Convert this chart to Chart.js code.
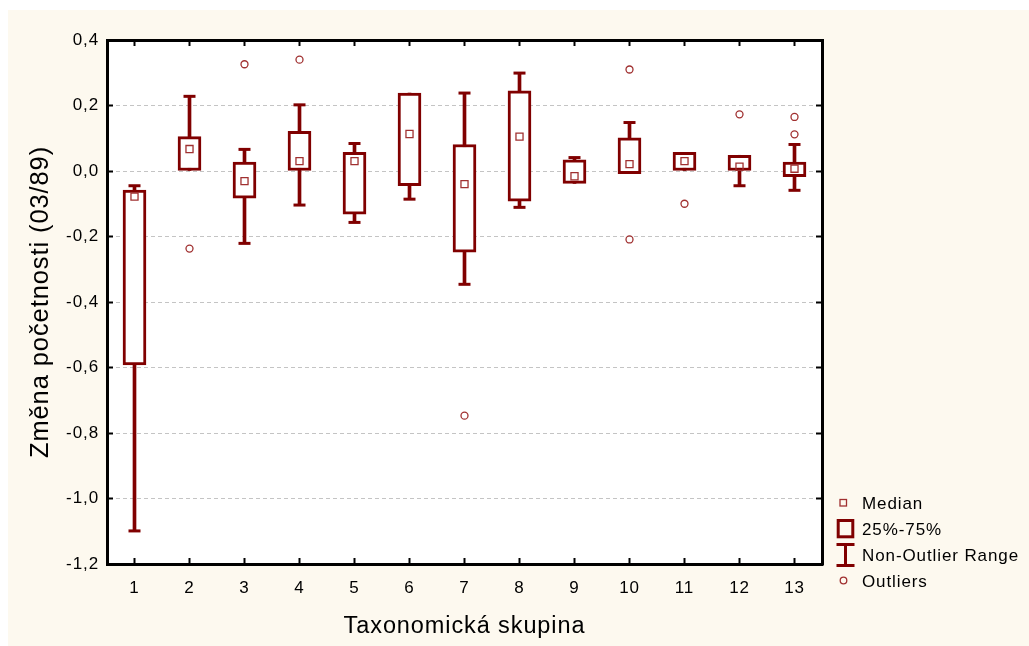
<!DOCTYPE html>
<html><head><meta charset="utf-8">
<script src="https://cdn.jsdelivr.net/npm/chart.js@4/dist/chart.umd.min.js"></script>
<style>html,body{margin:0;padding:0;background:#fff;}canvas{display:block;}</style>
</head><body>
<canvas id="c" width="1029" height="646"></canvas>
<script>
// ---- data ----
const categories = ['1','2','3','4','5','6','7','8','9','10','11','12','13'];
const whiskerLow  = [-1.099, 0.000, -0.221, -0.104, -0.157, -0.086, -0.346, -0.111, -0.038, -0.008, 0.000, -0.045, -0.059];
const q1          = [-0.592, 0.000, -0.083,  0.000, -0.132, -0.045, -0.248, -0.092, -0.038, -0.008, 0.000,  0.000, -0.017];
const median      = [-0.078, 0.067, -0.031,  0.030,  0.030,  0.113, -0.040,  0.105, -0.016,  0.021, 0.030,  0.013,  0.007];
const q3          = [-0.058, 0.105,  0.027,  0.121,  0.057,  0.238,  0.081,  0.245,  0.034,  0.101, 0.057,  0.048,  0.027];
const whiskerHigh = [-0.045, 0.228,  0.066,  0.202,  0.084,  0.238,  0.238,  0.299,  0.041,  0.148, 0.057,  0.048,  0.081];
const outlierGroup = ['2','3','4','7','10','10','11','12','13','13'];
const outlierValue = [-0.237, 0.326, 0.340, -0.747, 0.310, -0.209, -0.100, 0.173, 0.165, 0.112];
const yTickLabels = ['-1,2','-1,0','-0,8','-0,6','-0,4','-0,2','0,0','0,2','0,4'];
const legendLabels = ['Median','25%-75%','Non-Outlier Range','Outliers'];
const xTitle = 'Taxonomická skupina';
const yTitle = 'Změna početnosti (03/89)';

const DARK = '#800000';
const LIGHT = '#a03030';
const FONT = "'Liberation Sans', Arial, sans-serif";
const SPACING = '0.9px';

Chart.defaults.font.family = FONT;
Chart.defaults.color = '#000';

const pagePlugin = {
  id: 'page',
  beforeUpdate(chart) { chart.ctx.letterSpacing = SPACING; },
  beforeDraw(chart) {
    const {ctx, chartArea: a} = chart;
    ctx.save();
    ctx.fillStyle = '#ffffff';
    ctx.fillRect(0, 0, chart.width, chart.height);
    ctx.fillStyle = '#fdf9ef';
    ctx.fillRect(8, 10, chart.width - 8, chart.height - 10);
    ctx.fillStyle = '#ffffff';
    ctx.fillRect(a.left, a.top, a.right - a.left, a.bottom - a.top);
    ctx.restore();
    ctx.letterSpacing = SPACING;
  },
  afterDraw(chart) {
    const ctx = chart.ctx;
    ctx.save();
    // Median icon
    ctx.strokeStyle = LIGHT; ctx.lineWidth = 1.3;
    ctx.strokeRect(840, 499.5, 6.5, 6.5);
    // box icon
    ctx.strokeStyle = DARK; ctx.lineWidth = 3;
    ctx.strokeRect(838.2, 520.5, 14.6, 16.3);
    // whisker icon
    ctx.beginPath();
    ctx.moveTo(845.5, 544.5); ctx.lineTo(845.5, 565.5);
    ctx.moveTo(836.5, 544.5); ctx.lineTo(854.5, 544.5);
    ctx.moveTo(836.5, 565.5); ctx.lineTo(854.5, 565.5);
    ctx.stroke();
    // outlier icon
    ctx.strokeStyle = LIGHT; ctx.lineWidth = 1.3;
    ctx.beginPath(); ctx.arc(843.5, 580.5, 3.3, 0, Math.PI * 2); ctx.stroke();
    // texts
    ctx.fillStyle = '#000';
    ctx.font = "17px " + FONT;
    ctx.textBaseline = 'middle';
    ctx.textAlign = 'left';
    ctx.letterSpacing = SPACING;
    const ys = [504, 530, 556, 582];
    legendLabels.forEach((t, i) => ctx.fillText(t, 862, ys[i]));
    ctx.restore();
  }
};

const tickStyle = {tickLength: -6, tickColor: '#000', tickWidth: 2, tickBorderDash: []};

new Chart(document.getElementById('c'), {
  type: 'bar',
  data: {
    labels: categories,
    datasets: [
      {
        label: 'whisker', type: 'bar', order: 5,
        data: categories.map((c, i) => [whiskerLow[i], whiskerHigh[i]]),
        backgroundColor: DARK, borderWidth: 0, barThickness: 3, grouped: false
      },
      {
        label: 'box', type: 'bar', order: 4,
        data: categories.map((c, i) => [q1[i], q3[i]]),
        backgroundColor: '#ffffff', borderColor: DARK, borderWidth: 3,
        borderSkipped: false, barThickness: 23, grouped: false
      },
      {
        label: 'capHigh', type: 'line', order: 3, showLine: false,
        data: whiskerHigh.map((v, i) => v > q3[i] ? v : null),
        pointStyle: 'line', pointRadius: 6, pointBorderWidth: 3,
        pointBorderColor: DARK, borderColor: DARK
      },
      {
        label: 'capLow', type: 'line', order: 3, showLine: false,
        data: whiskerLow.map((v, i) => v < q1[i] ? v : null),
        pointStyle: 'line', pointRadius: 6, pointBorderWidth: 3,
        pointBorderColor: DARK, borderColor: DARK
      },
      {
        label: 'median', type: 'line', order: 2, showLine: false,
        data: median,
        pointStyle: 'rect', pointRadius: 5, pointBorderWidth: 1.3,
        pointBorderColor: LIGHT, pointBackgroundColor: 'rgba(0,0,0,0)'
      },
      {
        label: 'outliers', type: 'line', order: 1, showLine: false,
        data: outlierGroup.map((g, i) => ({x: g, y: outlierValue[i]})),
        pointStyle: 'circle', pointRadius: 3.5, pointBorderWidth: 1.3,
        pointBorderColor: LIGHT, pointBackgroundColor: 'rgba(0,0,0,0)'
      }
    ]
  },
  options: {
    responsive: false,
    animation: false,
    devicePixelRatio: 1,
    events: [],
    layout: {padding: {left: 22, top: 40, right: 207, bottom: 1}},
    plugins: {legend: {display: false}, tooltip: {enabled: false}},
    scales: {
      x: {
        type: 'category', position: 'bottom', offset: true,
        grid: Object.assign({display: true, drawOnChartArea: false, drawTicks: true, offset: false}, tickStyle),
        border: {display: true, color: '#000', width: 3, z: 1},
        ticks: {font: {size: 17}, color: '#000', padding: 20, maxRotation: 0, autoSkip: false},
        title: {display: true, text: xTitle, font: {size: 23.5}, color: '#000', padding: {top: 4, bottom: 4}},
        afterFit: s => { s.height = 81; }
      },
      xTop: {
        type: 'category', position: 'top', offset: true, min: 0, max: 12,
        grid: Object.assign({display: true, drawOnChartArea: false, drawTicks: true, offset: false}, tickStyle),
        border: {display: true, color: '#000', width: 3, z: 1},
        ticks: {display: false},
        afterFit: s => { s.height = 0; }
      },
      y: {
        type: 'linear', position: 'left', min: -1.2, max: 0.4,
        grid: Object.assign({display: true, drawOnChartArea: true, drawTicks: true, color: '#c4c4c4', lineWidth: 1}, tickStyle),
        border: {display: true, color: '#000', width: 3, dash: [4, 3], z: 1},
        ticks: {stepSize: 0.2, font: {size: 17}, color: '#000', padding: 14,
                callback: (v, i) => yTickLabels[i]},
        title: {display: true, text: yTitle, font: {size: 25.5}, color: '#000', padding: {top: 4, bottom: 4}},
        afterFit: s => { s.width = 85; }
      },
      yRight: {
        type: 'linear', position: 'right', min: -1.2, max: 0.4,
        grid: Object.assign({display: true, drawOnChartArea: false, drawTicks: true}, tickStyle),
        border: {display: true, color: '#000', width: 3, z: 1},
        ticks: {display: false, stepSize: 0.2},
        afterFit: s => { s.width = 0; }
      }
    }
  },
  plugins: [pagePlugin]
});
</script>
</body></html>
